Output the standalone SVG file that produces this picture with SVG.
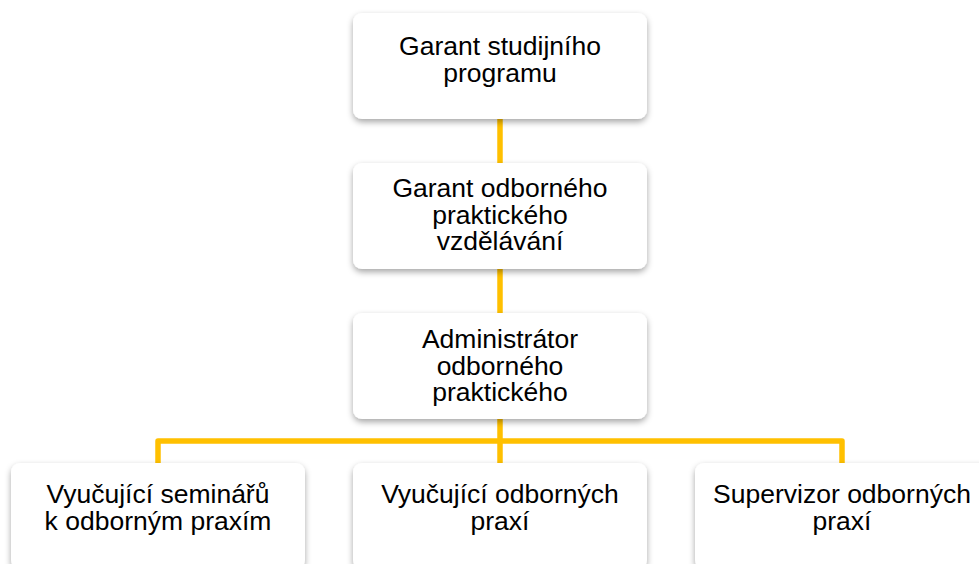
<svg xmlns="http://www.w3.org/2000/svg" width="979" height="564" viewBox="0 0 979 564">
  <defs>
    <filter id="sh" x="-10%" y="-20%" width="120%" height="150%">
      <feDropShadow dx="0" dy="3" stdDeviation="3" flood-color="#000" flood-opacity="0.35"/>
    </filter>
  </defs>
  <style>
    .box { fill: #ffffff; filter: url(#sh); }
    .lbl { font-family: "Liberation Sans", Arial, sans-serif; font-size: 26.5px; fill: #000000; text-anchor: middle; }
    .conn { fill: none; stroke: #FFC000; stroke-width: 5.5; stroke-linejoin: round; }
  </style>
  <rect width="979" height="564" fill="#ffffff"/>
  <g id="connectors">
    <line class="conn" x1="500" y1="119" x2="500" y2="163"/>
    <line class="conn" x1="500" y1="269" x2="500" y2="313"/>
    <line class="conn" x1="500" y1="419" x2="500" y2="463"/>
    <path class="conn" d="M158 463 V441 H842 V463"/>
  </g>
  <g id="node1">
    <rect class="box" x="353" y="13" width="294" height="106" rx="9"/>
    <text class="lbl" x="500" y="55">Garant studijního</text>
    <text class="lbl" x="500" y="82">programu</text>
  </g>
  <g id="node2">
    <rect class="box" x="353" y="163" width="294" height="106" rx="9"/>
    <text class="lbl" x="500" y="197">Garant odborného</text>
    <text class="lbl" x="500" y="223.5">praktického</text>
    <text class="lbl" x="500" y="250">vzdělávání</text>
  </g>
  <g id="node3">
    <rect class="box" x="353" y="313" width="294" height="106" rx="9"/>
    <text class="lbl" x="500" y="348">Administrátor</text>
    <text class="lbl" x="500" y="374.5">odborného</text>
    <text class="lbl" x="500" y="401">praktického</text>
  </g>
  <g id="node4">
    <rect class="box" x="11" y="463" width="294" height="106" rx="9"/>
    <text class="lbl" x="158" y="503">Vyučující seminářů</text>
    <text class="lbl" x="158" y="530">k odborným praxím</text>
  </g>
  <g id="node5">
    <rect class="box" x="353" y="463" width="294" height="106" rx="9"/>
    <text class="lbl" x="500" y="503">Vyučující odborných</text>
    <text class="lbl" x="500" y="530">praxí</text>
  </g>
  <g id="node6">
    <rect class="box" x="695" y="463" width="294" height="106" rx="9"/>
    <text class="lbl" x="842" y="503">Supervizor odborných</text>
    <text class="lbl" x="842" y="530">praxí</text>
  </g>
</svg>
